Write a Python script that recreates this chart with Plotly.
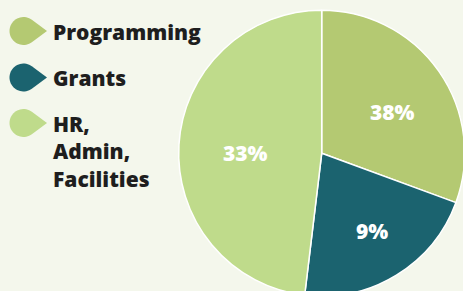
import math
import plotly.graph_objects as go

# ---- data ----
categories = ["Programming", "Grants", "HR,<br>Admin,<br>Facilities"]
slice_values = [30.6, 21.3, 48.1]          # angular share as drawn
pct_labels = ["38%", "9%", "33%"]           # printed labels
colors = ["#b4c972", "#1b636f", "#bfdb8b"]

BG = "#f4f7ec"
W, H = 475, 300
FONT = "Open Sans"

fig = go.Figure()

cx, cy, R = 321.7, 153.3, 143.0
fig.add_trace(go.Pie(
    values=slice_values,
    labels=categories,
    sort=False,
    direction="clockwise",
    rotation=0,
    marker=dict(colors=colors, line=dict(color="white", width=1.5)),
    textinfo="none",
    hoverinfo="skip",
    showlegend=False,
    domain=dict(x=[(cx - R) / W, (cx + R) / W],
                y=[(H - cy - R) / H, (H - cy + R) / H]),
))

# hidden pixel axes for overlays
fig.update_layout(
    xaxis=dict(range=[0, W], visible=False, fixedrange=True, domain=[0, 1]),
    yaxis=dict(range=[H, 0], visible=False, fixedrange=True, domain=[0, 1]),
)

# percentage labels
label_pos = [(392.7, 111.5), (371.7, 230.5), (245, 153)]
for t, (x, y) in zip(pct_labels, label_pos):
    fig.add_annotation(x=x, y=y, xref="x", yref="y", text=t, showarrow=False,
                       font=dict(family=FONT, size=21, color="white", weight=800),
                       xanchor="center", yanchor="middle")

# legend
leg_y = [31, 77.5, 123]
cap_top = [25, 71, 117.3]
r = 14.0
for c, name, y, ct in zip(colors, categories, leg_y, cap_top):
    x0 = 23.5
    tip = (x0 + 23.5, y)
    d = 23.5
    th = math.acos(r / d)
    pts = [tip]
    n = 40
    for i in range(n + 1):
        a = th + (2 * math.pi - 2 * th) * i / n
        pts.append((x0 + r * math.cos(a), y - r * math.sin(a)))
    path = "M " + " L ".join(f"{px:.2f},{py:.2f}" for px, py in pts) + " Z"
    fig.add_shape(type="path", path=path, xref="x", yref="y",
                  fillcolor=c, line=dict(width=0), layer="above")
    fig.add_annotation(x=51, y=ct - 9, xref="x", yref="y", text=name, showarrow=False,
                       font=dict(family=FONT, size=21, color="#1e1e1e", weight=800),
                       xanchor="left", yanchor="top", align="left")

fig.update_layout(
    width=W, height=H,
    margin=dict(l=0, r=0, t=0, b=0),
    paper_bgcolor=BG, plot_bgcolor=BG,
)

fig.write_html(
    "out.html",
    config={"displayModeBar": False, "staticPlot": True},
    post_script=(
        "document.documentElement.style.margin='0';"
        "document.body.style.margin='0';"
        "document.body.style.overflow='hidden';"
        "document.documentElement.style.overflow='hidden';"
        f"document.body.style.background='{BG}';"
    ),
)
